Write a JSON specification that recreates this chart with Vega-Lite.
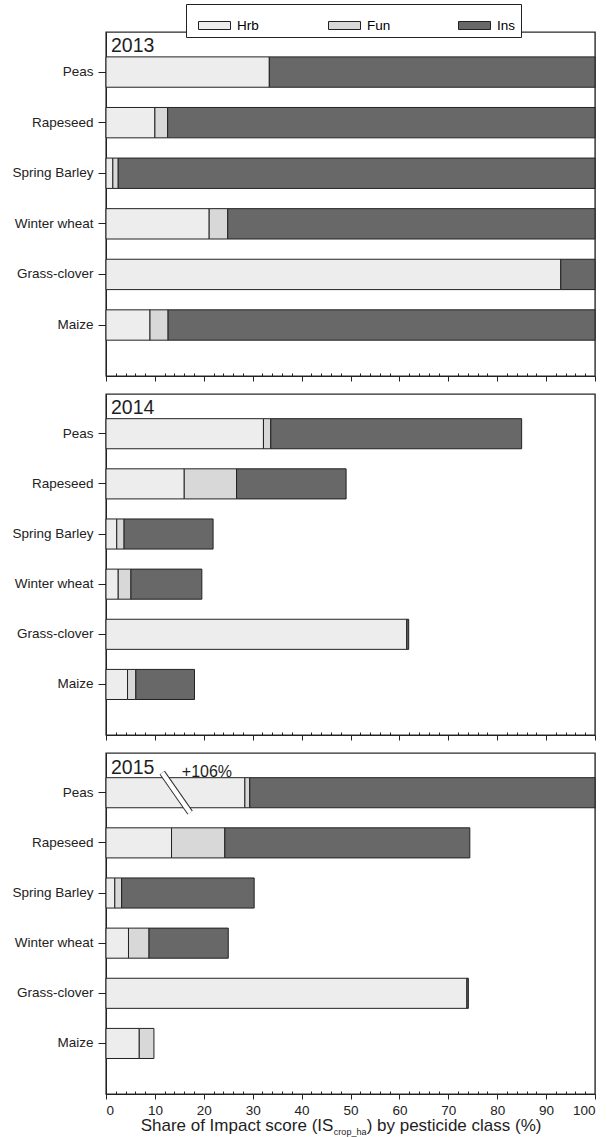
{
  "$schema": "https://vega.github.io/schema/vega-lite/v6.json",
  "background": "white",
  "padding": {"left": 11, "top": 3, "right": 5, "bottom": 0},
  "config": {
    "font": "Liberation Sans",
    "view": {"stroke": "#2a2a2a", "strokeWidth": 1.4},
    "axis": {"labelFont": "Liberation Sans", "labelColor": "#222", "tickColor": "#222", "domainColor": "#222", "grid": false},
    "text": {"font": "Liberation Sans", "color": "#1e1e1e"}
  },
  "datasets": {
    "shares": [
      {"year": "2013", "crop": "Peas", "cls": "Hrb", "k": 1, "share": 33.4},
      {"year": "2013", "crop": "Peas", "cls": "Ins", "k": 3, "share": 66.6},
      {"year": "2013", "crop": "Rapeseed", "cls": "Hrb", "k": 1, "share": 10.0},
      {"year": "2013", "crop": "Rapeseed", "cls": "Fun", "k": 2, "share": 2.6},
      {"year": "2013", "crop": "Rapeseed", "cls": "Ins", "k": 3, "share": 87.4},
      {"year": "2013", "crop": "Spring Barley", "cls": "Hrb", "k": 1, "share": 1.4},
      {"year": "2013", "crop": "Spring Barley", "cls": "Fun", "k": 2, "share": 1.1},
      {"year": "2013", "crop": "Spring Barley", "cls": "Ins", "k": 3, "share": 97.5},
      {"year": "2013", "crop": "Winter wheat", "cls": "Hrb", "k": 1, "share": 21.1},
      {"year": "2013", "crop": "Winter wheat", "cls": "Fun", "k": 2, "share": 3.8},
      {"year": "2013", "crop": "Winter wheat", "cls": "Ins", "k": 3, "share": 75.1},
      {"year": "2013", "crop": "Grass-clover", "cls": "Hrb", "k": 1, "share": 93.0},
      {"year": "2013", "crop": "Grass-clover", "cls": "Ins", "k": 3, "share": 7.0},
      {"year": "2013", "crop": "Maize", "cls": "Hrb", "k": 1, "share": 9.0},
      {"year": "2013", "crop": "Maize", "cls": "Fun", "k": 2, "share": 3.7},
      {"year": "2013", "crop": "Maize", "cls": "Ins", "k": 3, "share": 87.3},

      {"year": "2014", "crop": "Peas", "cls": "Hrb", "k": 1, "share": 32.2},
      {"year": "2014", "crop": "Peas", "cls": "Fun", "k": 2, "share": 1.5},
      {"year": "2014", "crop": "Peas", "cls": "Ins", "k": 3, "share": 51.3},
      {"year": "2014", "crop": "Rapeseed", "cls": "Hrb", "k": 1, "share": 16.0},
      {"year": "2014", "crop": "Rapeseed", "cls": "Fun", "k": 2, "share": 10.7},
      {"year": "2014", "crop": "Rapeseed", "cls": "Ins", "k": 3, "share": 22.4},
      {"year": "2014", "crop": "Spring Barley", "cls": "Hrb", "k": 1, "share": 2.2},
      {"year": "2014", "crop": "Spring Barley", "cls": "Fun", "k": 2, "share": 1.5},
      {"year": "2014", "crop": "Spring Barley", "cls": "Ins", "k": 3, "share": 18.2},
      {"year": "2014", "crop": "Winter wheat", "cls": "Hrb", "k": 1, "share": 2.5},
      {"year": "2014", "crop": "Winter wheat", "cls": "Fun", "k": 2, "share": 2.6},
      {"year": "2014", "crop": "Winter wheat", "cls": "Ins", "k": 3, "share": 14.5},
      {"year": "2014", "crop": "Grass-clover", "cls": "Hrb", "k": 1, "share": 61.5},
      {"year": "2014", "crop": "Grass-clover", "cls": "Ins", "k": 3, "share": 0.4},
      {"year": "2014", "crop": "Maize", "cls": "Hrb", "k": 1, "share": 4.4},
      {"year": "2014", "crop": "Maize", "cls": "Fun", "k": 2, "share": 1.7},
      {"year": "2014", "crop": "Maize", "cls": "Ins", "k": 3, "share": 12.0},

      {"year": "2015", "crop": "Peas", "cls": "Hrb", "k": 1, "share": 28.4},
      {"year": "2015", "crop": "Peas", "cls": "Fun", "k": 2, "share": 1.0},
      {"year": "2015", "crop": "Peas", "cls": "Ins", "k": 3, "share": 70.6},
      {"year": "2015", "crop": "Rapeseed", "cls": "Hrb", "k": 1, "share": 13.4},
      {"year": "2015", "crop": "Rapeseed", "cls": "Fun", "k": 2, "share": 10.9},
      {"year": "2015", "crop": "Rapeseed", "cls": "Ins", "k": 3, "share": 50.1},
      {"year": "2015", "crop": "Spring Barley", "cls": "Hrb", "k": 1, "share": 1.8},
      {"year": "2015", "crop": "Spring Barley", "cls": "Fun", "k": 2, "share": 1.4},
      {"year": "2015", "crop": "Spring Barley", "cls": "Ins", "k": 3, "share": 27.1},
      {"year": "2015", "crop": "Winter wheat", "cls": "Hrb", "k": 1, "share": 4.6},
      {"year": "2015", "crop": "Winter wheat", "cls": "Fun", "k": 2, "share": 4.2},
      {"year": "2015", "crop": "Winter wheat", "cls": "Ins", "k": 3, "share": 16.2},
      {"year": "2015", "crop": "Grass-clover", "cls": "Hrb", "k": 1, "share": 73.8},
      {"year": "2015", "crop": "Grass-clover", "cls": "Ins", "k": 3, "share": 0.3},
      {"year": "2015", "crop": "Maize", "cls": "Hrb", "k": 1, "share": 6.8},
      {"year": "2015", "crop": "Maize", "cls": "Fun", "k": 2, "share": 3.0}
    ]
  },
  "spacing": 10,
  "vconcat": [
    {
      "width": 489,
      "height": 344,
      "resolve": {"axis": {"x": "independent"}},
      "layer": [
        {
          "data": {"name": "shares"},
          "transform": [{"filter": "datum.year == '2013'"}],
          "mark": {"type": "bar", "stroke": "#222", "strokeWidth": 1},
          "encoding": {
            "y": {"field": "crop", "type": "nominal", "sort": ["Peas", "Rapeseed", "Spring Barley", "Winter wheat", "Grass-clover", "Maize"],
                  "scale": {"paddingInner": 0.4, "paddingOuter": 0.6, "align": 0.41},
                  "axis": {"title": null, "tickSize": 8, "labelPadding": 5, "labelFontSize": 13.5}},
            "x": {"field": "share", "type": "quantitative", "stack": "zero", "scale": {"domain": [0, 100], "nice": false},
                  "axis": {"orient": "bottom", "title": null, "values": [0, 10, 20, 30, 40, 50, 60, 70, 80, 90, 100], "tickSize": 5, "labels": false}},
            "fill": {"field": "cls", "type": "nominal", "scale": {"domain": ["Hrb", "Fun", "Ins"], "range": ["#ededed", "#d8d8d8", "#686868"]},
                     "legend": {"title": null, "orient": "none", "legendX": 80, "legendY": -28, "direction": "horizontal", "columns": 3,
                                "symbolType": "M-1,-0.25H1V0.25H-1Z", "symbolSize": 1024, "symbolStrokeColor": "#222", "symbolStrokeWidth": 1,
                                "symbolOffset": 7, "labelFontSize": 13.5, "labelOffset": 6, "columnPadding": 60, "gridAlign": "all",
                                "strokeColor": "#222", "padding": 5, "fillColor": "white"}},
            "order": {"field": "k"}
          }
        },
        {
          "data": {"values": [{"year": "2013"}]},
          "mark": {"type": "text", "align": "left", "baseline": "alphabetic", "fontSize": 19.5, "dx": 5, "dy": -20},
          "encoding": {
            "text": {"field": "year"},
            "x": {"datum": 0, "type": "quantitative",
                  "axis": {"orient": "bottom", "title": null, "values": [2, 4, 6, 8, 12, 14, 16, 18, 22, 24, 26, 28, 32, 34, 36, 38, 42, 44, 46, 48, 52, 54, 56, 58, 62, 64, 66, 68, 72, 74, 76, 78, 82, 84, 86, 88, 92, 94, 96, 98],
                           "tickSize": -3, "labels": false, "domain": false}},
            "y": {"datum": "Peas", "type": "nominal"}
          }
        }
      ]
    },
    {
      "width": 489,
      "height": 341,
      "resolve": {"axis": {"x": "independent"}},
      "layer": [
        {
          "data": {"name": "shares"},
          "transform": [{"filter": "datum.year == '2014'"}],
          "mark": {"type": "bar", "stroke": "#222", "strokeWidth": 1},
          "encoding": {
            "y": {"field": "crop", "type": "nominal", "sort": ["Peas", "Rapeseed", "Spring Barley", "Winter wheat", "Grass-clover", "Maize"],
                  "scale": {"paddingInner": 0.4, "paddingOuter": 0.6, "align": 0.41},
                  "axis": {"title": null, "tickSize": 8, "labelPadding": 5, "labelFontSize": 13.5}},
            "x": {"field": "share", "type": "quantitative", "stack": "zero", "scale": {"domain": [0, 100], "nice": false},
                  "axis": {"orient": "bottom", "title": null, "values": [0, 10, 20, 30, 40, 50, 60, 70, 80, 90, 100], "tickSize": 5, "labels": false}},
            "fill": {"field": "cls", "type": "nominal", "scale": {"domain": ["Hrb", "Fun", "Ins"], "range": ["#ededed", "#d8d8d8", "#686868"]}},
            "order": {"field": "k"}
          }
        },
        {
          "data": {"values": [{"year": "2014"}]},
          "mark": {"type": "text", "align": "left", "baseline": "alphabetic", "fontSize": 19.5, "dx": 5, "dy": -20},
          "encoding": {
            "text": {"field": "year"},
            "x": {"datum": 0, "type": "quantitative",
                  "axis": {"orient": "bottom", "title": null, "values": [2, 4, 6, 8, 12, 14, 16, 18, 22, 24, 26, 28, 32, 34, 36, 38, 42, 44, 46, 48, 52, 54, 56, 58, 62, 64, 66, 68, 72, 74, 76, 78, 82, 84, 86, 88, 92, 94, 96, 98],
                           "tickSize": -3, "labels": false, "domain": false}},
            "y": {"datum": "Peas", "type": "nominal"}
          }
        }
      ]
    },
    {
      "width": 489,
      "height": 341,
      "resolve": {"axis": {"x": "independent"}},
      "layer": [
        {
          "data": {"name": "shares"},
          "transform": [{"filter": "datum.year == '2015'"}],
          "mark": {"type": "bar", "stroke": "#222", "strokeWidth": 1},
          "encoding": {
            "y": {"field": "crop", "type": "nominal", "sort": ["Peas", "Rapeseed", "Spring Barley", "Winter wheat", "Grass-clover", "Maize"],
                  "scale": {"paddingInner": 0.4, "paddingOuter": 0.6, "align": 0.41},
                  "axis": {"title": null, "tickSize": 8, "labelPadding": 5, "labelFontSize": 13.5}},
            "x": {"field": "share", "type": "quantitative", "stack": "zero", "scale": {"domain": [0, 100], "nice": false},
                  "axis": {"orient": "bottom", "title": null, "values": [0, 10, 20, 30, 40, 50, 60, 70, 80, 90, 100], "tickSize": 5,
                           "labelFontSize": 13.5, "labelPadding": 4}},
            "fill": {"field": "cls", "type": "nominal", "scale": {"domain": ["Hrb", "Fun", "Ins"], "range": ["#ededed", "#d8d8d8", "#686868"]}},
            "order": {"field": "k"}
          }
        },
        {
          "data": {"values": [{"year": "2015"}]},
          "mark": {"type": "text", "align": "left", "baseline": "alphabetic", "fontSize": 19.5, "dx": 5, "dy": -19},
          "encoding": {
            "text": {"field": "year"},
            "x": {"datum": 0, "type": "quantitative",
                  "axis": {"orient": "bottom", "title": null, "values": [2, 4, 6, 8, 12, 14, 16, 18, 22, 24, 26, 28, 32, 34, 36, 38, 42, 44, 46, 48, 52, 54, 56, 58, 62, 64, 66, 68, 72, 74, 76, 78, 82, 84, 86, 88, 92, 94, 96, 98],
                           "tickSize": -3, "labels": false, "domain": false}},
            "y": {"datum": "Peas", "type": "nominal"}
          }
        },
        {
          "data": {"values": [{"from": 11.5, "to": 17.2}]},
          "mark": {"type": "rule", "color": "#333", "strokeWidth": 6.5, "yOffset": -20, "y2Offset": 20},
          "encoding": {
            "x": {"field": "from", "type": "quantitative", "axis": null},
            "x2": {"field": "to"},
            "y": {"datum": "Peas", "type": "nominal"},
            "y2": {"datum": "Peas"}
          }
        },
        {
          "data": {"values": [{"from": 11.5, "to": 17.2}]},
          "mark": {"type": "rule", "color": "white", "strokeWidth": 4.5, "yOffset": -20, "y2Offset": 20},
          "encoding": {
            "x": {"field": "from", "type": "quantitative", "axis": null},
            "x2": {"field": "to"},
            "y": {"datum": "Peas", "type": "nominal"},
            "y2": {"datum": "Peas"}
          }
        },
        {
          "data": {"values": [{"note": "+106%", "at": 15.5}]},
          "mark": {"type": "text", "align": "left", "baseline": "alphabetic", "fontSize": 16, "dy": -16},
          "encoding": {
            "text": {"field": "note"},
            "x": {"field": "at", "type": "quantitative", "axis": null},
            "y": {"datum": "Peas", "type": "nominal"}
          }
        },
        {
          "data": {"values": [{"t": "Share of Impact score (IS", "at": 46.5}]},
          "mark": {"type": "text", "align": "right", "baseline": "alphabetic", "fontSize": 17, "dy": 88},
          "encoding": {
            "text": {"field": "t"},
            "x": {"field": "at", "type": "quantitative", "axis": null},
            "y": {"datum": "Maize", "type": "nominal"}
          }
        },
        {
          "data": {"values": [{"t": "crop_ha", "at": 46.6}]},
          "mark": {"type": "text", "align": "left", "baseline": "alphabetic", "fontSize": 9, "dy": 92},
          "encoding": {
            "text": {"field": "t"},
            "x": {"field": "at", "type": "quantitative", "axis": null},
            "y": {"datum": "Maize", "type": "nominal"}
          }
        },
        {
          "data": {"values": [{"t": ") by pesticide class (%)", "at": 53.3}]},
          "mark": {"type": "text", "align": "left", "baseline": "alphabetic", "fontSize": 17, "dy": 88},
          "encoding": {
            "text": {"field": "t"},
            "x": {"field": "at", "type": "quantitative", "axis": null},
            "y": {"datum": "Maize", "type": "nominal"}
          }
        }
      ]
    }
  ]
}
